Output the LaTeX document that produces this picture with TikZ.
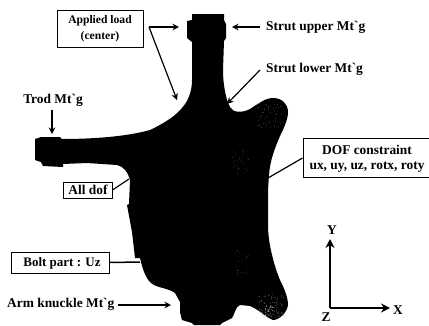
\documentclass[tikz,border=0pt]{standalone}
\usepackage{fontspec}
\setmainfont{Liberation Serif}
\usetikzlibrary{arrows.meta}
\tikzset{
  lab/.style={font=\bfseries\fontsize{13.4}{16}\selectfont,inner sep=0pt,align=center},
  labs/.style={font=\bfseries\fontsize{11.6}{16}\selectfont,inner sep=0pt,align=center},
  boxed/.style={draw=black,line width=0.9pt,fill=white},
  conn/.style={line width=1.2pt,-{Stealth[length=6.5pt,width=6.5pt]}},
  plain/.style={line width=1.2pt},
  axis/.style={line width=1.3pt,-{Stealth[length=9pt,width=9pt]}}
}
\newcommand{\specks}[7]{% count, x0, y0, w, h, size, colour
  \foreach \i in {1,...,#1}{
    \pgfmathsetmacro{\px}{#2+#4*rnd}
    \pgfmathsetmacro{\py}{#3+#5*rnd}
    \fill[#7] (\px,\py) circle (#6pt);
  }}
\begin{document}
\begin{tikzpicture}[x=1pt,y=-1pt]
\useasboundingbox (0,0) rectangle (429,325);
\pgfmathsetseed{7}
% silhouette
\fill[black] (192,14) -- (224,14) -- (224,20) -- (226,24) -- (226,38) -- (224,41)
 -- (223,70) .. controls (223,85) and (226,100) .. (230,107)
 .. controls (233,113) and (242,113) .. (250,109)
 .. controls (258,104) and (265,98) .. (273,98)
 .. controls (282,98) and (288,104) .. (288,112)
 .. controls (288,120) and (283,130) .. (280,136)
 .. controls (275,148) and (270,160) .. (269,175)
 -- (268,190) -- (268,225)
 .. controls (268,245) and (275,268) .. (280,280)
 .. controls (284,288) and (288,297) .. (288,305)
 .. controls (287,313) and (279,320) .. (273,320)
 .. controls (267,318) and (258,309) .. (250,306)
 -- (240,305) .. controls (235,307) and (235,314) .. (232,318)
 -- (222,323) -- (220,325) -- (194,325) -- (192,323) -- (182,320)
 -- (180,312) -- (180,302) -- (175,293)
 .. controls (170,289) and (160,288) .. (154,285)
 .. controls (146,281) and (143,270) .. (140,258)
 -- (135,258) -- (132,232) -- (127,205) -- (129,204) -- (130,180)
 .. controls (128,172) and (123,166) .. (117,165)
 -- (87,163) -- (63,164) -- (63,167) -- (43,166) -- (41,162) -- (35,160)
 -- (35,139) -- (41,137) -- (60,137) -- (62,139)
 .. controls (90,139) and (125,137) .. (150,130)
 .. controls (175,118) and (192,105) .. (192,80)
 -- (192,42) -- (187,38) -- (187,21) -- (192,20) -- cycle;
% stippled patches
\specks{60}{257}{103}{27}{25}{0.35}{black!55!white}
\specks{35}{232}{150}{18}{24}{0.3}{black!60!white}
\specks{25}{235}{250}{14}{24}{0.3}{black!60!white}
\specks{70}{258}{294}{26}{24}{0.4}{black!45!white}
\specks{30}{264}{305}{14}{12}{0.45}{black!30!white}
% labels
\node[boxed,minimum width=86pt,minimum height=37pt] (load) at (100,28.5) {};
\node[labs] at (100,29) {Applied load\\(center)};
\node[lab,anchor=west] (upper) at (266,27) {Strut upper Mt\textasciigrave g};
\node[lab,anchor=west] (lower) at (266,69) {Strut lower Mt\textasciigrave g};
\node[lab] (trod) at (53,100) {Trod Mt\textasciigrave g};
\node[boxed,minimum width=126pt,minimum height=39pt,anchor=north west] (dof) at (302.5,138) {};
\node[lab] at (367,150) {DOF constraint};
\node[lab] at (367,167) {ux, uy, uz, rotx, roty};
\node[boxed,minimum width=49pt,minimum height=16pt] (all) at (87.5,190) {};
\node[lab] at (88,190) {All dof};
\node[boxed,minimum width=98pt,minimum height=21pt] (bolt) at (60,262.5) {};
\node[font=\bfseries\fontsize{13}{14}\selectfont,inner sep=0pt] at (62,263) {Bolt part : Uz};
\node[lab,anchor=west] (arm) at (7,304) {Arm knuckle Mt\textasciigrave g};
\node[lab] (y) at (332,230) {Y};
\node[lab] (x) at (398,310) {X};
\node[lab] (z) at (326,317) {Z};
% anchor points
\coordinate (apex) at (149,27);
\coordinate (t1) at (179,27);
\coordinate (t2) at (177,100);
\coordinate (s3) at (260,27);
\coordinate (t3) at (232,27);
\coordinate (s4) at (260,70);
\coordinate (t4) at (227,104);
\coordinate (s5) at (52,110);
\coordinate (t5) at (52,134);
\coordinate (s6) at (118,305);
\coordinate (t6) at (171,305);
\coordinate (t7) at (129,179);
\coordinate (t8) at (140,262);
\coordinate (t9) at (268,178);
\coordinate (s9) at (302.5,158);
\coordinate (o) at (330,308);
\coordinate (ox) at (390,308);
\coordinate (oy) at (330,239);
% connectors
\draw[conn] (apex) -- (t1);
\draw[conn] (apex) -- (t2);
\draw[conn] (s3) -- (t3);
\draw[conn] (s4) -- (t4);
\draw[conn] (s5) -- (t5);
\draw[plain] (all.east) -- (t7);
\draw[plain,line width=1.5pt] (bolt.east) -- (t8);
\draw[conn] (s6) -- (t6);
\draw[plain] (s9) -- (t9);
\draw[axis] (o) -- (ox);
\draw[axis] (o) -- (oy);
\end{tikzpicture}
\end{document}
